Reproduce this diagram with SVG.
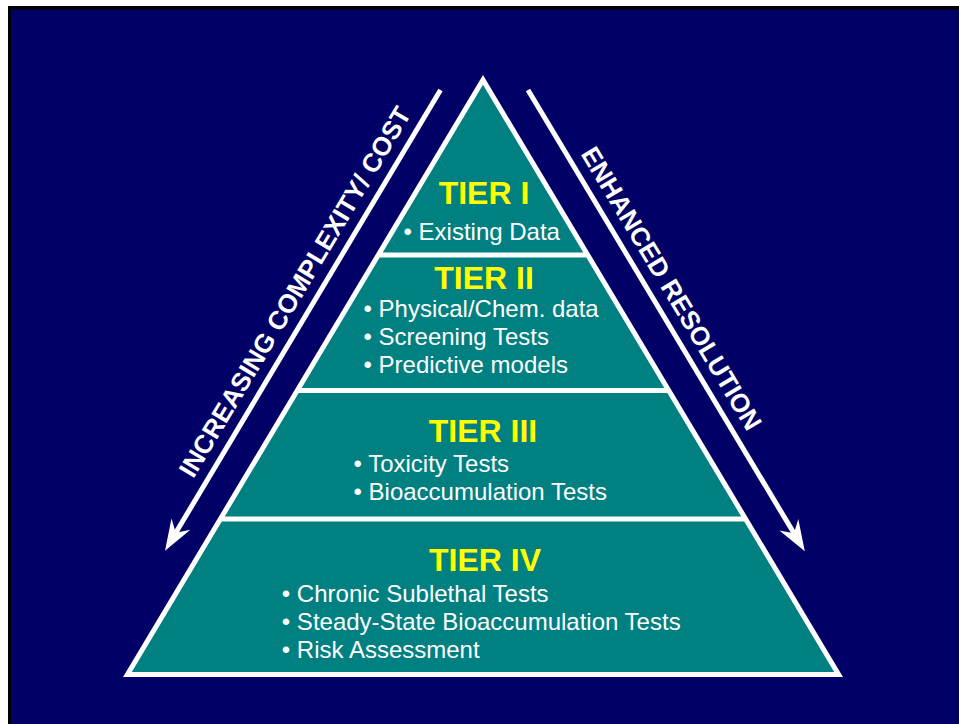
<svg xmlns="http://www.w3.org/2000/svg" width="959" height="724" viewBox="0 0 959 724">
<style>
.title{font-family:"Liberation Sans",Arial,sans-serif;font-weight:bold;font-size:32px;fill:#FFFF00;text-anchor:middle}
.item{font-family:"Liberation Sans",Arial,sans-serif;font-size:24px;fill:#FFFFFF}
.side{font-family:"Liberation Sans",Arial,sans-serif;font-weight:bold;font-size:26px;fill:#FFFFFF;text-anchor:middle}
.tier{fill:#008080}
.arrow{stroke:#FFFFFF;stroke-width:5;fill:none}
</style>
<defs>
<marker id="head" markerUnits="userSpaceOnUse" orient="auto" refX="0" refY="0" markerWidth="60" markerHeight="60" overflow="visible">
<path d="M21,0 L-10,-11 L0,0 L-10,11 Z" fill="#FFFFFF"/>
</marker>
</defs>
<rect x="0" y="0" width="959" height="724" fill="#FFFFFF"/>
<rect x="8" y="6" width="960" height="730" fill="#000000"/>
<rect x="11" y="9.5" width="960" height="730" fill="#000066"/>
<g id="pyramid">
<polygon points="483,75 843,677 123,677" fill="#FFFFFF"/>
</g>
<g id="tier1">
<polygon class="tier" points="483,84.75 583.3,252.5 382.7,252.5"/>
<text class="title" x="484" y="203.5">TIER I</text>
<text class="item" x="403.5" y="239.5">• Existing Data</text>
</g>
<g id="tier2">
<polygon class="tier" points="379.7,257.5 586.3,257.5 664.35,388 301.65,388"/>
<text class="title" x="484" y="288.5">TIER II</text>
<text class="item" x="363.5" y="316.7">• Physical/Chem. data</text>
<text class="item" x="363.5" y="345">• Screening Tests</text>
<text class="item" x="363.5" y="373.3">• Predictive models</text>
</g>
<g id="tier3">
<polygon class="tier" points="298.66,393 667.34,393 741.2,516.5 224.8,516.5"/>
<text class="title" x="483" y="441.7">TIER III</text>
<text class="item" x="353.5" y="471.7">• Toxicity Tests</text>
<text class="item" x="353.5" y="500">• Bioaccumulation Tests</text>
</g>
<g id="tier4">
<polygon class="tier" points="221.8,521.5 744.2,521.5 834.2,672 131.8,672"/>
<text class="title" x="485" y="570.7">TIER IV</text>
<text class="item" x="281.8" y="601.7">• Chronic Sublethal Tests</text>
<text class="item" x="281.8" y="630">• Steady-State Bioaccumulation Tests</text>
<text class="item" x="281.8" y="658.3">• Risk Assessment</text>
</g>
<g id="connectors">
<line class="arrow" x1="440.5" y1="90" x2="175.8" y2="532.7" marker-end="url(#head)"/>
<line class="arrow" x1="528" y1="90" x2="794" y2="533.3" marker-end="url(#head)"/>
</g>
<g id="labels">
<text class="side" transform="translate(302.6,296.4) rotate(-59.1)">INCREASING COMPLEXITY/ COST</text>
<text class="side" transform="translate(663.8,293) rotate(59.04)">ENHANCED RESOLUTION</text>
</g>
</svg>
